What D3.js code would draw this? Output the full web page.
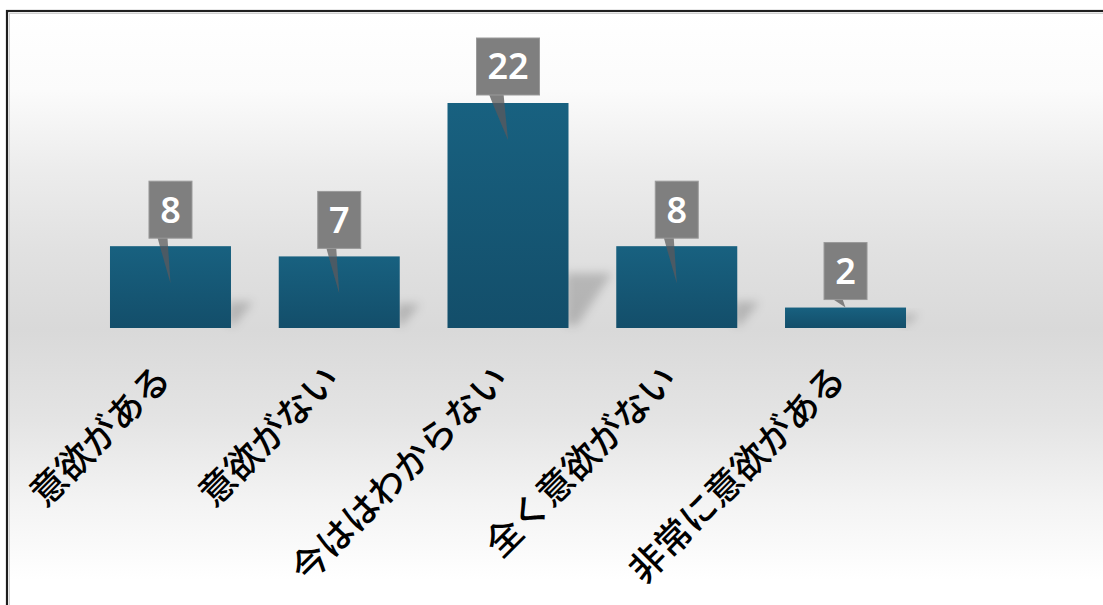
<!DOCTYPE html>
<html>
<head>
<meta charset="utf-8">
<script src="https://cdn.jsdelivr.net/npm/d3@7/dist/d3.min.js"></script>
<style>
  html, body { margin: 0; padding: 0; background: #ffffff; overflow: hidden; }
  svg { display: block; }
</style>
</head>
<body>
<svg id="chart" width="1103" height="605"></svg>
<script>
// Survey answers and their counts
const categories = ["意欲がある", "意欲がない", "今ははわからない", "全く意欲がない", "非常に意欲がある"];
const counts = [8, 7, 22, 8, 2];

const W = 1103, H = 605;
const svg = d3.select("#chart");
const defs = svg.append("defs");

// Panel background: light at the top and bottom, greyest at the baseline
const bg = defs.append("linearGradient")
  .attr("id", "panelBg").attr("gradientUnits", "userSpaceOnUse")
  .attr("x1", 0).attr("y1", 11).attr("x2", 0).attr("y2", 600);
[[11, "#ffffff"], [90, "#fbfbfb"], [170, "#ececec"], [250, "#e1e1e1"], [330, "#d9d9d9"],
 [420, "#e4e4e4"], [500, "#f3f3f3"], [580, "#ffffff"], [600, "#ffffff"]]
  .forEach(([y, c]) => bg.append("stop").attr("offset", ((y - 11) / 589)).attr("stop-color", c));

// Bar fill
const barGrad = defs.append("linearGradient")
  .attr("id", "barFill").attr("x1", 0).attr("y1", 0).attr("x2", 0).attr("y2", 1);
barGrad.append("stop").attr("offset", 0).attr("stop-color", "#186180");
barGrad.append("stop").attr("offset", 1).attr("stop-color", "#134e6a");

// Soft blur for the bar shadows
defs.append("filter").attr("id", "soft")
  .attr("x", "-50%").attr("y", "-50%").attr("width", "200%").attr("height", "200%")
  .append("feGaussianBlur").attr("stdDeviation", 5);

// Panel with its frame
svg.append("rect")
  .attr("x", 7).attr("y", 11).attr("width", W + 20).attr("height", H + 20)
  .attr("fill", "url(#panelBg)");
svg.append("rect")
  .attr("x", 9.5).attr("y", 13.5).attr("width", W + 20).attr("height", H + 20)
  .attr("fill", "none").attr("stroke", "#d0d0d0").attr("stroke-width", 1);
svg.append("rect")
  .attr("x", 7).attr("y", 11).attr("width", W + 20).attr("height", H + 20)
  .attr("fill", "none").attr("stroke", "#1e1e1e").attr("stroke-width", 2.2);

// Scales
const x = d3.scaleBand()
  .domain(categories)
  .range([86.1, 929.9])
  .paddingInner(0.283)
  .paddingOuter(0.1415);
const y = d3.scaleLinear().domain([0, 22]).range([328, 103]);

const data = categories.map((c, i) => ({ cat: c, value: counts[i] }));
const base = y(0);

// Shadows cast to the right of each bar
svg.append("g").selectAll("polygon").data(data).join("polygon")
  .attr("points", d => {
    const h = base - y(d.value);
    const hs = 0.2 * h + 10, ws = 0.15 * h + 13;
    const x1 = x(d.cat) + x.bandwidth() - 3;
    return [[x1, base - hs], [x1 + ws, base - hs], [x1 + ws * 0.25, base - 3], [x1, base - 3]]
      .map(p => p.join(",")).join(" ");
  })
  .attr("fill", "#000").attr("fill-opacity", 0.18)
  .attr("filter", "url(#soft)");

// Bars
svg.append("g").selectAll("rect").data(data).join("rect")
  .attr("x", d => x(d.cat))
  .attr("y", d => y(d.value))
  .attr("width", x.bandwidth())
  .attr("height", d => base - y(d.value))
  .attr("fill", "url(#barFill)");

// Value callouts
const boxH = 57, gap = 8;
const callouts = svg.append("g");
data.forEach(d => {
  const cx = x(d.cat) + x.bandwidth() / 2;
  const top = y(d.value);
  const g = callouts.append("g");
  const txt = g.append("text")
    .text(d.value)
    .attr("font-family", "'Noto Sans', 'DejaVu Sans', sans-serif")
    .attr("font-weight", 600)
    .attr("font-size", 36)
    .attr("fill", "#ffffff")
    .attr("text-anchor", "middle");
  const tw = txt.node().getComputedTextLength();
  const bw = Math.round(tw + 22);
  const bx = cx - bw / 2;
  const by = top - gap - boxH;
  const by2 = top - gap;

  // Pointer from the box into the bar
  const h = base - top;
  const tipY = h > 40 ? top + 37 : top;
  const xl = bx + 0.2 * bw, xr = bx + 0.43 * bw;
  const lerp = (a, b, t) => a + (b - a) * t;
  const t = Math.min(1, (top - by2) / (tipY - by2));
  const ml = lerp(xl, cx, t), mr = lerp(xr, cx, t);
  g.insert("polygon", "text")
    .attr("points", [[xl, by2 - 0.5], [xr, by2 - 0.5], [mr, top], [ml, top]].map(p => p.join(",")).join(" "))
    .attr("fill", "#7f7f7f");
  if (tipY > top) {
    g.insert("polygon", "text")
      .attr("points", [[ml, top], [mr, top], [cx, tipY]].map(p => p.join(",")).join(" "))
      .attr("fill", "#4b5a64");
  }
  g.insert("rect", "text")
    .attr("x", bx).attr("y", by).attr("width", bw).attr("height", boxH)
    .attr("fill", "#7f7f7f").attr("stroke", "#9a9a9a").attr("stroke-width", 1);
  txt.attr("x", cx).attr("y", by + boxH / 2).attr("dy", "0.36em");
});

// Rotated category labels
svg.append("g").selectAll("text").data(data).join("text")
  .attr("transform", d => `translate(${x(d.cat) + x.bandwidth() / 2 - 9},${370}) rotate(-45)`)
  .attr("text-anchor", "end")
  .attr("dominant-baseline", "central")
  .attr("font-family", "'Noto Sans CJK JP', sans-serif")
  .attr("font-weight", 500)
  .attr("font-size", 36)
  .attr("fill", "#000000")
  .text(d => d.cat);
</script>
</body>
</html>
